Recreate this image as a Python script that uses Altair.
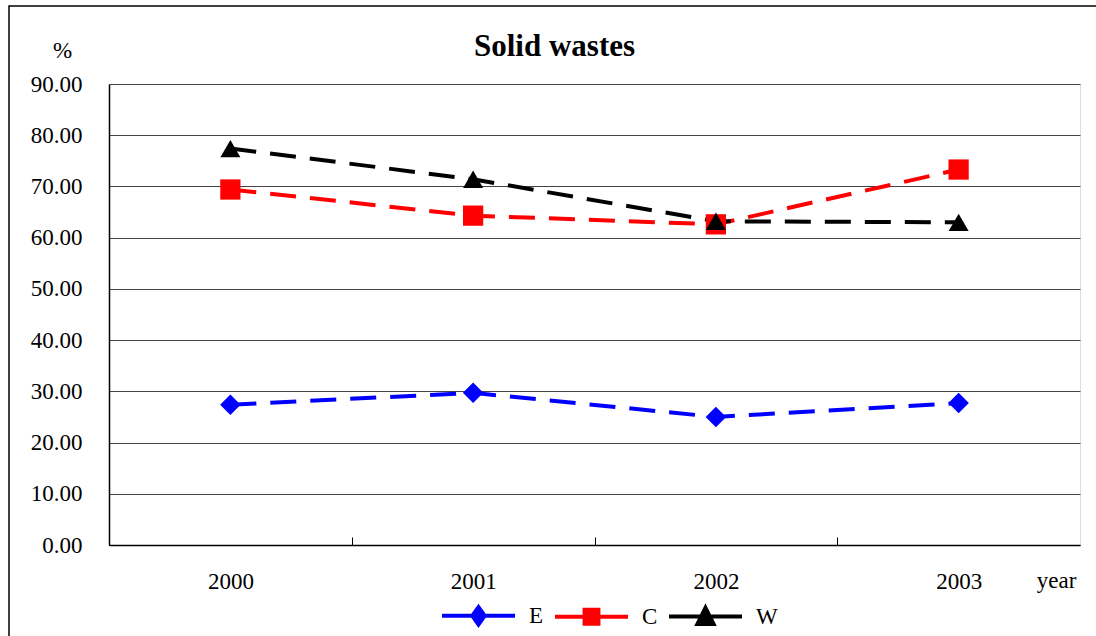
import altair as alt
import pandas as pd

years = [2000, 2001, 2002, 2003]
series = ["E", "C", "W"]
E = [27.4, 29.7, 25.0, 27.7]
C = [69.4, 64.3, 62.6, 73.3]
W = [77.4, 71.4, 63.2, 63.0]
colors = ["#0000ff", "#ff0000", "#000000"]
shapes = ["diamond", "square", "triangle-up"]
legend_shapes = [
    "M-1,0H1M0,-0.24L0.17,0L0,0.24L-0.17,0Z",
    "M-1,0H1M-0.19,-0.19H0.19V0.19H-0.19Z",
    "M-1,0H1M0,-0.24L0.22,0.2H-0.22Z",
]
y_ticks = [0, 10, 20, 30, 40, 50, 60, 70, 80, 90]
boundaries = [2000.5, 2001.5, 2002.5]

rows = []
for name, vals in zip(series, [E, C, W]):
    for yr, v in zip(years, vals):
        rows.append({"year": yr, "value": v, "series": name})
df = pd.DataFrame(rows)

FONT = "Liberation Serif"
FS = 23

xscale = alt.Scale(domain=[1999.5, 2003.5], nice=False, zero=False)
yscale = alt.Scale(domain=[0, 90], nice=False, zero=True)

def cscale():
    return alt.Scale(domain=series, range=colors)

yaxis = alt.Axis(values=y_ticks, format=".2f", title="%", titleAngle=0,
                 titleX=-47, titleY=-34, titleAlign="center", titleBaseline="middle",
                 titleFont=FONT, titleFontSize=FS, titleFontWeight="normal", titleColor="black",
                 labelFont=FONT, labelFontSize=FS, labelColor="black", labelPadding=27,
                 ticks=False, grid=True, gridColor="#444444", gridWidth=1,
                 domain=True, domainColor="black", domainWidth=1.5)

lines = alt.Chart(df).mark_line(strokeWidth=4, strokeDash=[26, 14]).encode(
    x=alt.X("year:Q", scale=xscale,
            axis=alt.Axis(values=years, format="d", orient="bottom", ticks=False, grid=False,
                          domain=True, domainColor="black", domainWidth=1.5,
                          labelFont=FONT, labelFontSize=FS, labelColor="black",
                          labelPadding=25, labelBaseline="top",
                          title="year", titleX=947, titleY=35, titleAngle=0,
                          titleAlign="center", titleBaseline="middle",
                          titleFont=FONT, titleFontSize=FS, titleFontWeight="normal",
                          titleColor="black")),
    y=alt.Y("value:Q", scale=yscale, axis=yaxis),
    color=alt.Color("series:N", scale=cscale(), legend=None),
)

points = alt.Chart(df).mark_point(filled=True, opacity=1).encode(
    x=alt.X("year:Q", scale=xscale,
            axis=alt.Axis(values=boundaries, orient="bottom", labels=False, ticks=True,
                          tickSize=8, offset=-8, tickColor="black", tickWidth=1,
                          domain=False, grid=False, title=None)),
    y=alt.Y("value:Q", scale=yscale, axis=yaxis),
    color=alt.Color("series:N", scale=cscale(), legend=None),
    shape=alt.Shape("series:N", scale=alt.Scale(domain=series, range=shapes), legend=None),
    size=alt.Size("series:N", scale=alt.Scale(domain=series, range=[420, 400, 650]), legend=None),
)

leg = alt.Legend(title=None, orient="none", direction="horizontal",
                 legendX=331, legendY=493, padding=0,
                 symbolSize=5329, symbolStrokeWidth=4, symbolOpacity=1,
                 labelFont=FONT, labelFontSize=FS, labelColor="black",
                 labelOffset=12, columnPadding=3)

legend_layer = alt.Chart(df).transform_filter("datum.year < 0").mark_point(
    filled=True, opacity=1, strokeWidth=4).encode(
    color=alt.Color("series:N", scale=cscale(), legend=leg),
    stroke=alt.Stroke("series:N", scale=cscale(), legend=leg),
    shape=alt.Shape("series:N", scale=alt.Scale(domain=series, range=legend_shapes), legend=leg),
)

border = alt.Chart(alt.Data(values=[{"a": 1}])).mark_rect(
    fillOpacity=0, stroke="black", strokeWidth=1.5).encode(
    x=alt.value(-100), x2=alt.value(1200), y=alt.value(-78), y2=alt.value(800))

chart = alt.layer(border, lines, points, legend_layer).resolve_axis(
    x="independent").resolve_scale(
    color="independent", shape="independent", stroke="independent", size="independent"
).resolve_legend(
    color="independent", shape="independent", stroke="independent", size="independent"
).properties(
    width=971, height=461,
    title=alt.Title("Solid wastes", font=FONT, fontSize=31, fontWeight="bold", color="black",
                    anchor="middle", dx=-40, dy=82, offset=0, frame="group",
                    baseline="alphabetic"),
    autosize=alt.AutoSizeParams(type="none"),
    padding={"left": 109, "top": 84, "right": 16, "bottom": 91},
).configure_view(stroke="#808080", strokeWidth=1).configure(background="white")

chart.save("out.html", embed_options={"renderer": "svg", "actions": False})
